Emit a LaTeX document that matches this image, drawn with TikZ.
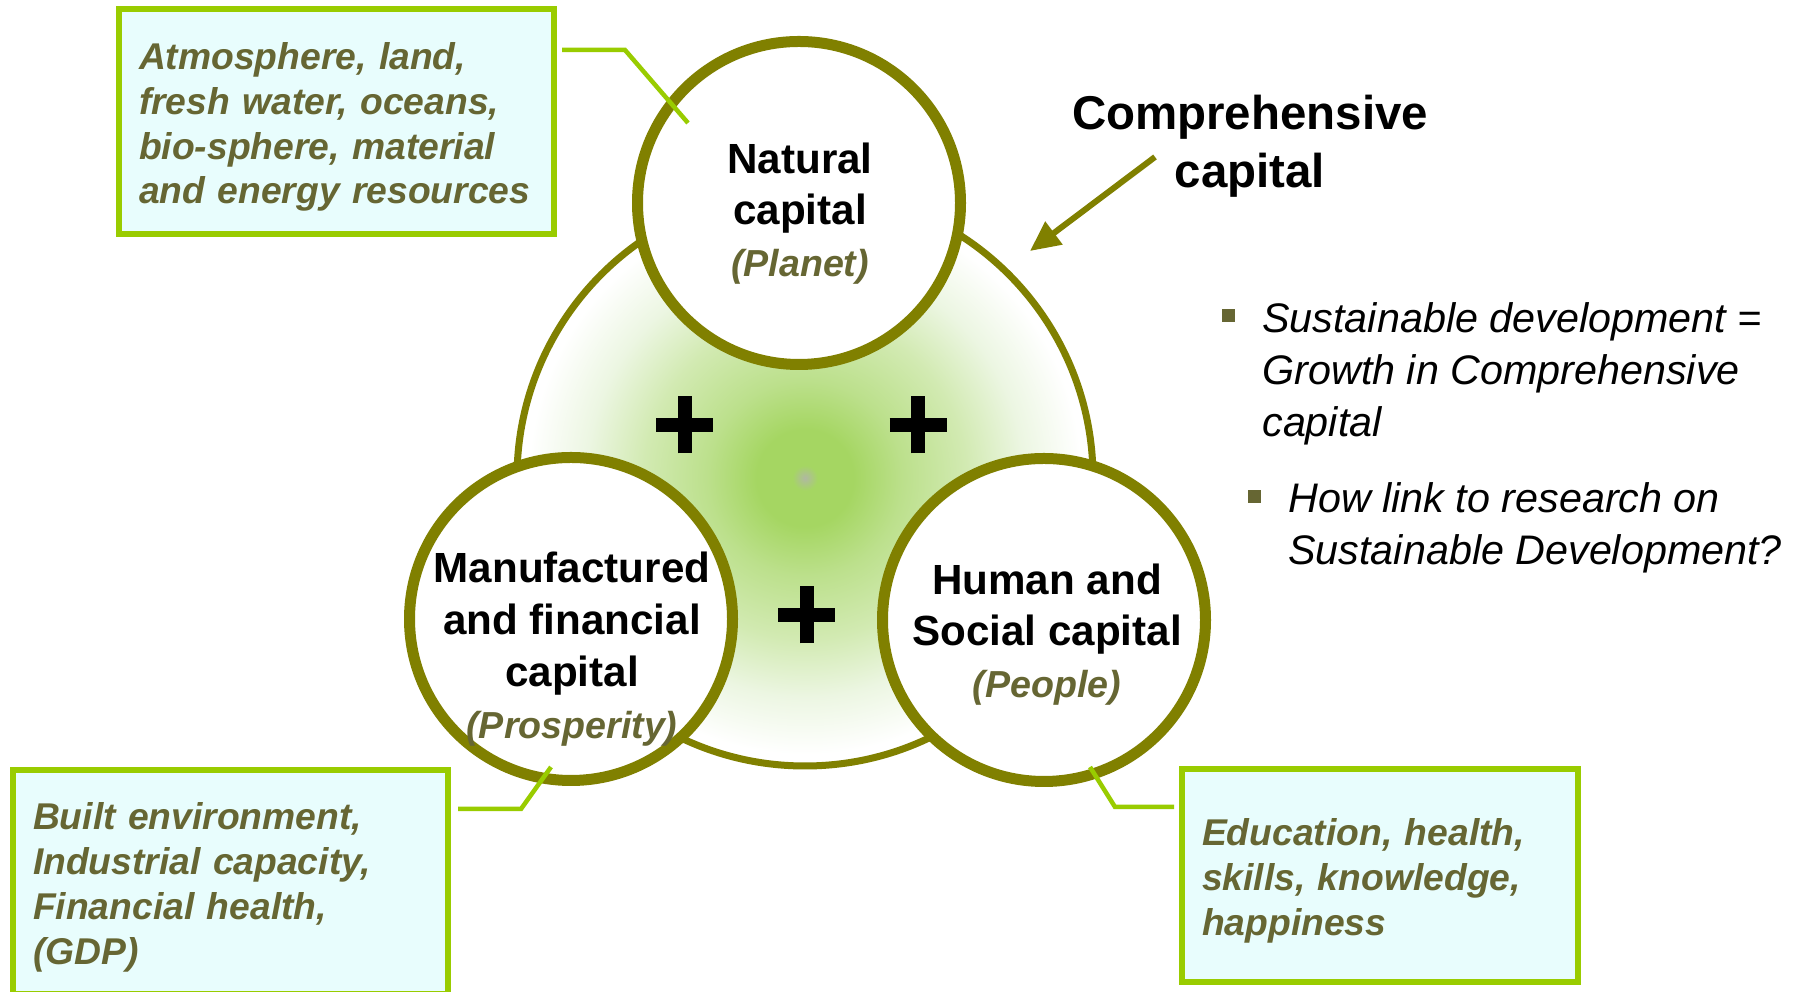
\documentclass[tikz,border=0pt]{standalone}
\usepackage{fontspec}
\setmainfont{Liberation Sans}
\usetikzlibrary{arrows.meta}

\definecolor{capolive}{RGB}{128,128,0}
\definecolor{boxlime}{RGB}{153,204,0}
\definecolor{boxfill}{RGB}{232,253,253}
\definecolor{txtolive}{RGB}{102,102,51}
\definecolor{glowgray}{RGB}{176,184,162}
\definecolor{glowgreen}{RGB}{165,214,98}
\definecolor{glowmid}{RGB}{188,224,140}
\definecolor{glowpale}{RGB}{210,234,178}
\definecolor{glowfaint}{RGB}{236,246,226}

% the ring's radius is 25bp of the shading
\pgfdeclareradialshading{capglow}{\pgfpoint{0bp}{0bp}}{color(0bp)=(glowgray); color(1.1bp)=(glowgreen); color(4.2bp)=(glowgreen); color(8.5bp)=(glowmid); color(14bp)=(glowpale); color(19bp)=(glowfaint); color(24bp)=(white); color(50bp)=(white)}

\newcommand{\capnote}[1]{{\fontsize{21.4}{25}\selectfont\itshape\color{txtolive}#1}}

\tikzset{
	bigring/.style={circle, draw=capolive, line width=0.14cm, shading=capglow, minimum size=11.52cm, inner sep=0pt, outer sep=0pt},
	capring/.style={circle, draw=capolive, line width=0.22cm, fill=white, minimum size=6.46cm, inner sep=0pt, outer sep=0pt},
	captitle/.style={align=center, inner sep=0pt, font=\fontsize{24}{29.5}\selectfont\bfseries},
	notebox/.style={draw=boxlime, line width=0.12cm, fill=boxfill, anchor=north west, inner xsep=0.4cm, inner ysep=0pt, outer sep=0pt, align=left, text=txtolive, font=\fontsize{21.2}{25.5}\selectfont\bfseries\itshape, execute at begin node={\rule{0pt}{0.76cm}}},
	notelink/.style={draw=boxlime, line width=0.09cm},
	plusbar/.style={line width=0.28cm},
	comparrow/.style={draw=capolive, line width=0.12cm, -{Triangle[length=0.6cm,width=0.55cm]}},
	complabel/.style={align=center, inner sep=0pt, font=\fontsize{27}{33}\selectfont\bfseries},
	bullettext/.style={anchor=west, align=left, inner sep=0pt, font=\fontsize{23.5}{29.5}\selectfont\itshape}
}

\begin{document}
\begin{tikzpicture}
	%%%%% START %%%%%
	\path[fill=white, use as bounding box] (0, 0) rectangle (36.16, 19.84);
	
	% comprehensive capital ring with the glow
	\node[bigring] (comp) at (16.10, 10.28) {};
	
	\foreach \px/\py in {13.69/11.34, 18.36/11.34, 16.13/7.54} {
		\draw[plusbar] (\px-0.57, \py) -- (\px+0.57, \py);
		\draw[plusbar] (\px, \py-0.57) -- (\px, \py+0.57);
	}
	
	% the three capitals
	\node[capring] (nat) at (15.98, 15.78) {};
	\node[capring] (man) at (11.42, 7.46) {};
	\node[capring] (hum) at (20.88, 7.44) {};
	
	\node[captitle] (natTxt) at (16.00, 15.57) {Natural\\capital\\\capnote{(Planet)}};
	\node[captitle] (manTxt) at (11.44, 6.86) {Manufactured\\and financial\\capital\\\capnote{(Prosperity)}};
	\node[captitle] (humTxt) at (20.94, 7.15) {Human and\\Social capital\\\capnote{(People)}};
	
	% boxes
	\node[notebox, text width=7.90cm, minimum height=4.50cm] (boxAtm) at (2.38, 19.66) {Atmosphere, land,\\fresh water, oceans,\\bio-sphere, material\\and energy resources};
	\node[notebox, text width=7.90cm, minimum height=4.48cm] (boxBuilt) at (0.26, 4.44) {Built environment,\\Industrial capacity,\\Financial health,\\(GDP)};
	\node[notebox, text width=7.12cm, minimum height=4.26cm] (boxEdu) at (23.64, 4.46) {Education, health,\\skills, knowledge,\\happiness};
	
	\coordinate (natBend) at (12.50, 18.84);
	\coordinate (natTip) at (13.76, 17.38);
	\draw[notelink, shorten <=0.16cm] (boxAtm.east |- natBend) -- (natBend) -- (natTip);
	
	\coordinate (manBend) at (10.42, 3.66);
	\coordinate (manTip) at (11.02, 4.50);
	\draw[notelink, shorten <=0.2cm] (boxBuilt.east |- manBend) -- (manBend) -- (manTip);
	
	\coordinate (humBend) at (22.30, 3.70);
	\coordinate (humTip) at (21.80, 4.50);
	\draw[notelink, shorten <=0.16cm] (boxEdu.west |- humBend) -- (humBend) -- (humTip);
	
	% comprehensive capital label
	\node[complabel] (compLbl) at (25.00, 16.91) {Comprehensive\\capital};
	\coordinate (compFrom) at (23.10, 16.70);
	\coordinate (compTo) at (20.60, 14.82);
	\draw[comparrow] (compFrom) -- (compTo);
	
	% bullets
	\fill[txtolive] (24.43, 13.39) rectangle (24.69, 13.65);
	\node[bullettext] (sdTxt) at (25.24, 12.36) {Sustainable development =\\Growth in Comprehensive\\capital};
	\fill[txtolive] (24.95, 9.77) rectangle (25.21, 10.03);
	\node[bullettext] (linkTxt) at (25.76, 9.28) {How link to research on\\Sustainable Development?};
	%%%%% END %%%%%
\end{tikzpicture}
\end{document}
